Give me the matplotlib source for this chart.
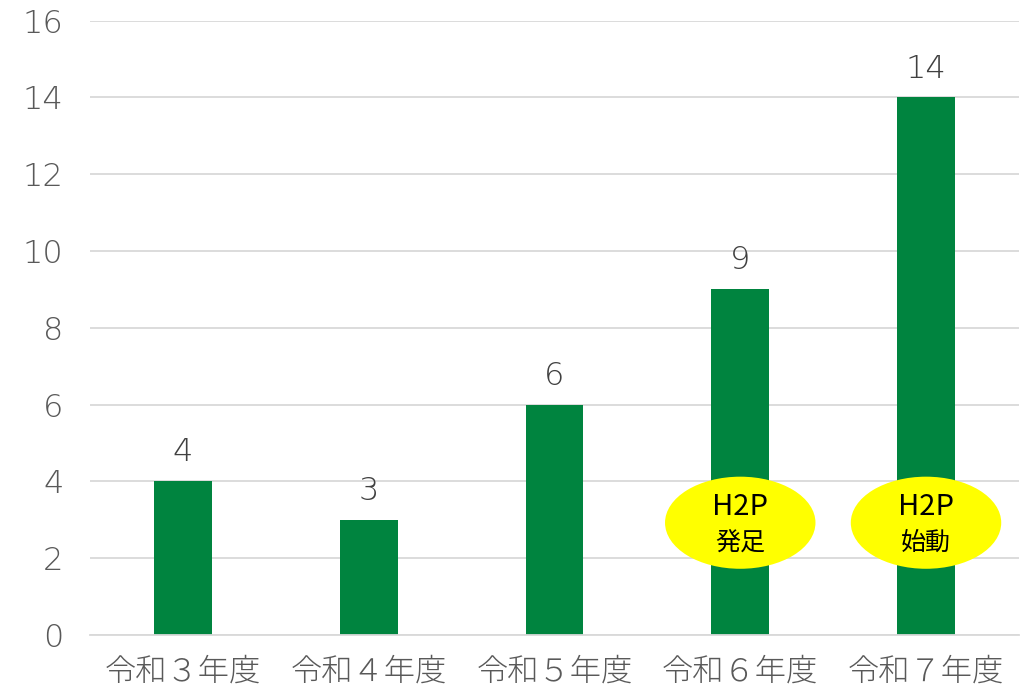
import matplotlib
matplotlib.use("Agg")
import matplotlib.pyplot as plt
from matplotlib.patches import Ellipse

plt.rcParams['font.family'] = ['Noto Sans CJK JP', 'DejaVu Sans']

categories = ["令和３年度", "令和４年度", "令和５年度", "令和６年度", "令和７年度"]
values = [4, 3, 6, 9, 14]
yticks = [0, 2, 4, 6, 8, 10, 12, 14, 16]
# annotated bars: (index, line 1, line 2)
notes = [(3, "H2P", "発足"), (4, "H2P", "始動")]

num_font = dict(family="DejaVu Sans", fontweight="light")

fig = plt.figure(figsize=(10.24, 6.9), dpi=100)
ax = fig.add_axes([0.088, 0.08, 0.907, 0.89])

x = list(range(len(categories)))
bars = ax.bar(x, values, width=0.31, color="#00843f", zorder=2)

for b, v in zip(bars, values):
    ax.annotate(str(v), (b.get_x() + b.get_width() / 2, v), xytext=(0, 10),
                textcoords="offset points", ha="center", va="bottom",
                fontsize=23, color="#404040", **num_font)

for i, t1, t2 in notes:
    e = Ellipse((i, 2.92), 0.81, 2.4, facecolor="#ffff00", edgecolor="none", zorder=3)
    ax.add_patch(e)
    ax.text(i, 3.32, t1, ha="center", va="center", fontsize=21, color="#000000", zorder=4)
    ax.text(i, 2.40, t2, ha="center", va="center", fontsize=18, color="#000000", zorder=4)

ax.set_xlim(-0.5, len(categories) - 0.5)
ax.set_ylim(0, 16)
ax.set_yticks(yticks)
ax.set_yticklabels([str(t) for t in yticks], **num_font)
ax.set_xticks(x)
ax.set_xticklabels(categories, fontweight="light")
ax.tick_params(axis="y", length=0, labelsize=23, labelcolor="#595959", pad=19)
ax.tick_params(axis="x", length=0, labelsize=22.5, labelcolor="#595959", pad=15)
ax.grid(axis="y", color="#d9d9d9", linewidth=1.3, zorder=0)
for s in ["top", "right", "left"]:
    ax.spines[s].set_visible(False)
ax.spines["bottom"].set_color("#d9d9d9")
ax.spines["bottom"].set_linewidth(1.3)

fig.savefig("out.png", dpi=100)
